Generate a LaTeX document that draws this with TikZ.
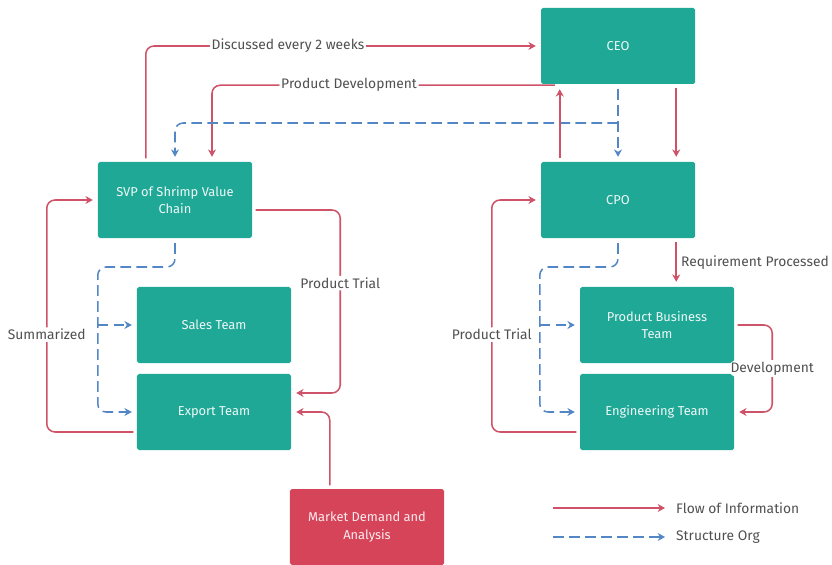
\documentclass[tikz,border=0pt]{standalone}
\usepackage{fontspec}
\setmainfont{Fira Sans}
\usetikzlibrary{calc,arrows.meta}
\definecolor{tealbox}{RGB}{32,168,150}
\definecolor{redbox}{RGB}{214,68,90}
\definecolor{flowred}{RGB}{206,82,104}
\definecolor{orgblue}{RGB}{82,134,196}
\definecolor{lblgray}{RGB}{80,80,80}

\begin{document}
\begin{tikzpicture}[x=0.03cm, y=-0.03cm,
    box/.style={fill=tealbox, rounded corners=1.5pt, minimum width=4.62cm, minimum height=2.28cm,
        align=center, text=white!92!tealbox, font=\fontsize{11}{15}\selectfont},
    redcard/.style={box, fill=redbox, text=white!90!redbox},
    flow/.style={draw=flowred, line width=1.3pt, rounded corners=7pt, -{Stealth[length=2.2mm,width=2.4mm]},
        shorten >=1.5mm, shorten <=1mm},
    struct/.style={draw=orgblue, line width=1.3pt, dash pattern=on 3.2mm off 1.6mm, rounded corners=7pt,
        -{Stealth[length=2.2mm,width=2.4mm]}, shorten >=1.5mm, shorten <=1.5mm},
    lbl/.style={fill=white, text=lblgray, inner sep=1.5pt, font=\fontsize{11.8}{14}\selectfont},
    legendtext/.style={text=lblgray, anchor=west, font=\fontsize{11.8}{14}\selectfont}]
    %%%%% START %%%%%

    \useasboundingbox (0,0) rectangle (832,565);

    % boxes
    \node[box] (ceo) at (618,46) {CEO};
    \node[box] (cpo) at (618,200) {CPO};
    \node[box] (svp) at (175,200) {SVP of Shrimp Value\\Chain};
    \node[box] (sales) at (214,325) {Sales Team};
    \node[box] (export) at (214,412) {Export Team};
    \node[box] (pbt) at (657,325) {Product Business\\Team};
    \node[box] (eng) at (657,412) {Engineering Team};
    \node[redcard] (market) at (367,527) {Market Demand and\\Analysis};

    % top part
    \draw[flow] ($(svp.north west)+(48,0)$) |- node[lbl,pos=0.68] {Discussed every 2 weeks} (ceo.west);
    \draw[flow, shorten <=0pt] ($(ceo.south west)+(14,1)$) -| node[lbl,pos=0.3] {Product Development} ($(svp.north)+(37,0)$);
    \draw[struct] (ceo.south) -- (cpo.north);
    \draw[struct, shorten <=0pt] ($(ceo.south)!0.5!(cpo.north)$) -| (svp.north);
    \draw[flow] ($(cpo.north west)+(19,0)$) -- ($(ceo.south west)+(19,0)$);
    \draw[flow] ($(ceo.south east)+(-19,0)$) -- ($(cpo.north east)+(-19,0)$);

    % left group
    \draw[flow] ($(svp.east)+(0,10)$) -| node[lbl,pos=0.7] {Product Trial} ($(export.east)+(49,-19)$) -- ($(export.east)+(0,-19)$);
    \draw[flow] ($(export.west)+(0,20)$) -| node[lbl,pos=0.71] {Summarized} ($(svp.west)+(-51,0)$) -- (svp.west);
    \draw[flow] ($(market.north west)+(40,0)$) |- (export.east);
    \draw[struct] (svp.south) |- ($(sales.west)+(-39,-58)$) |- (export.west);
    \draw[struct, shorten <=0pt] ($(sales.west)+(-39,0)$) -- (sales.west);

    % right group
    \draw[flow] ($(cpo.south east)+(-19,0)$) -- node[lbl,right,xshift=2pt] {Requirement Processed} ($(pbt.north east)+(-58,0)$);
    \draw[struct] (cpo.south) |- ($(pbt.west)+(-40,-58)$) |- (eng.west);
    \draw[struct, shorten <=0pt] ($(pbt.west)+(-40,0)$) -- (pbt.west);
    \draw[flow] ($(eng.west)+(0,20)$) -| node[lbl,pos=0.71] {Product Trial} ($(cpo.west)+(-49,0)$) -- (cpo.west);
    \draw[flow] (pbt.east) -| node[lbl,pos=0.75] {Development} ($(eng.east)+(38,0)$) -- (eng.east);

    % legend
    \coordinate (flowa) at (553,508);
    \coordinate (flowb) at (665,508);
    \coordinate (orga) at (553,537);
    \coordinate (orgb) at (665,537);
    \draw[flow, shorten <=0pt, shorten >=0pt] (flowa) -- (flowb);
    \draw[struct, shorten <=0pt, shorten >=0pt] (orga) -- (orgb);
    \node[legendtext] (flowtxt) at (672,508) {Flow of Information};
    \node[legendtext] (orgtxt) at (672,537) {Structure Org};

    %%%%% END %%%%%
\end{tikzpicture}
\end{document}
